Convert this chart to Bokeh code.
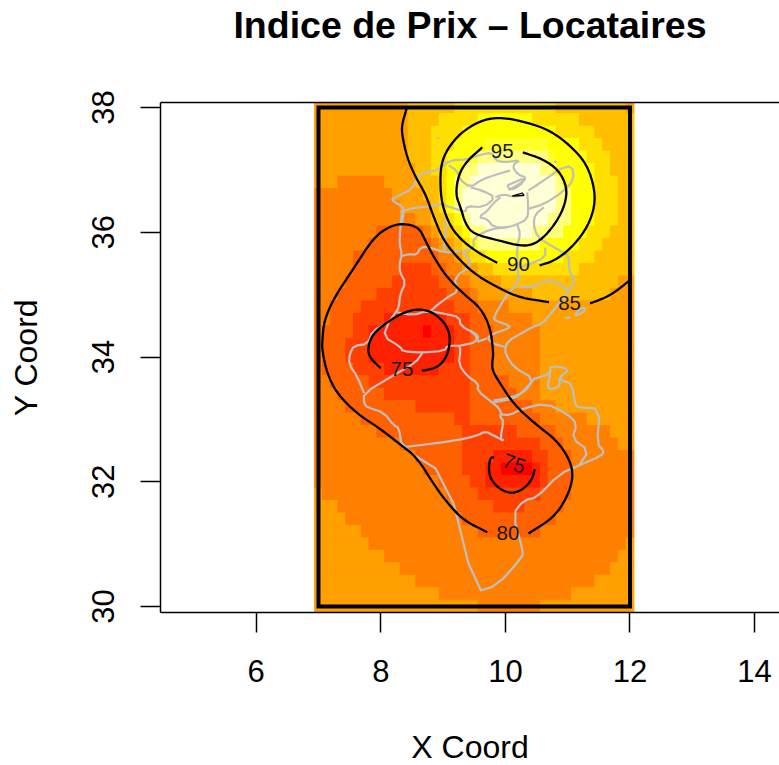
from bokeh.plotting import figure
from bokeh.models import Range1d, FixedTicker, LinearAxis
from bokeh.core.properties import value
from bokeh.embed import file_html
from bokeh.resources import INLINE

TITLE = "Indice de Prix – Locataires"
X_LABEL = "X Coord"
Y_LABEL = "Y Coord"
X_TICKS = [6, 8, 10, 12, 14]
Y_TICKS = [30, 32, 34, 36, 38]

# heat.colors(12): one band for every 2.5 index points from 70 to 100
BAND_COLORS = ["#FF0000", "#FF2000", "#FF4000", "#FF6000", "#FF8000", "#FF9F00",
               "#FFBF00", "#FFDF00", "#FFFF00", "#FFFF2A", "#FFFF80", "#FFFFD5"]

GRID_X0, GRID_X1, GRID_Y0, GRID_Y1, GRID_N = 7.0, 12.0, 30.0, 38.0, 41

# band index per grid row, top row first, as (band, run of cells)
HEAT_ROWS = [
    [(5,12),(6,6),(7,13),(6,9),(5,1)],
    [(5,12),(6,4),(7,5),(8,7),(7,6),(6,7)],
    [(5,12),(6,3),(7,4),(8,12),(7,5),(6,5)],
    [(5,12),(6,3),(7,3),(8,4),(9,8),(8,4),(7,3),(6,4)],
    [(5,12),(6,3),(7,2),(8,3),(9,1),(10,9),(9,1),(8,4),(7,3),(6,3)],
    [(5,13),(6,2),(7,2),(8,2),(10,2),(11,8),(10,2),(8,5),(7,2),(6,3)],
    [(5,3),(4,6),(5,4),(6,3),(7,1),(8,1),(10,2),(11,11),(10,1),(8,4),(7,3),(6,2)],
    [(4,10),(5,4),(6,2),(7,1),(8,1),(10,1),(11,12),(10,2),(8,3),(7,3),(6,2)],
    [(4,11),(5,4),(6,1),(7,1),(8,1),(10,1),(11,12),(10,2),(8,3),(7,3),(6,2)],
    [(4,13),(5,2),(6,2),(7,1),(8,1),(10,1),(11,10),(10,3),(8,3),(7,3),(6,2)],
    [(4,8),(3,6),(4,1),(5,1),(6,2),(7,1),(8,1),(10,2),(11,6),(10,4),(8,3),(7,3),(6,3)],
    [(4,7),(3,8),(4,1),(5,2),(6,1),(7,1),(8,1),(10,8),(8,5),(7,3),(6,4)],
    [(4,5),(3,11),(4,2),(5,1),(6,1),(7,2),(8,10),(7,4),(6,5)],
    [(4,5),(3,6),(2,4),(3,2),(4,2),(5,2),(6,2),(7,11),(6,7)],
    [(4,4),(3,6),(2,6),(3,2),(4,2),(5,4),(6,15),(5,2)],
    [(4,3),(3,5),(2,9),(3,3),(4,1),(5,7),(6,10),(5,3)],
    [(4,2),(3,4),(2,12),(3,3),(4,4),(5,16)],
    [(4,2),(3,3),(2,4),(1,8),(2,3),(3,2),(4,6),(5,13)],
    [(4,1),(3,4),(2,2),(1,7),(0,1),(1,3),(2,2),(3,3),(4,6),(5,12)],
    [(4,1),(3,3),(2,3),(1,11),(2,2),(3,3),(4,6),(5,12)],
    [(4,1),(3,3),(2,3),(1,11),(2,2),(3,3),(4,6),(5,12)],
    [(4,1),(3,4),(2,4),(1,7),(2,4),(3,3),(4,6),(5,12)],
    [(4,2),(3,5),(2,13),(3,5),(4,4),(5,12)],
    [(4,3),(3,6),(2,11),(3,6),(4,3),(5,12)],
    [(4,4),(3,9),(2,7),(3,8),(4,3),(5,10)],
    [(4,6),(3,12),(2,2),(3,9),(4,6),(5,6)],
    [(4,8),(3,11),(2,7),(3,5),(4,7),(5,3)],
    [(4,11),(3,8),(2,10),(3,3),(4,7),(5,2)],
    [(4,13),(3,6),(2,4),(1,5),(2,2),(3,3),(4,8)],
    [(4,14),(3,5),(2,3),(1,2),(0,4),(1,1),(2,1),(3,3),(4,8)],
    [(4,16),(3,4),(2,2),(1,7),(2,1),(3,3),(4,8)],
    [(5,1),(4,16),(3,4),(2,8),(3,4),(4,8)],
    [(5,3),(4,15),(3,5),(2,4),(3,5),(4,9)],
    [(5,4),(4,15),(3,12),(4,10)],
    [(5,6),(4,15),(3,8),(4,12)],
    [(5,7),(4,33),(5,1)],
    [(5,9),(4,30),(5,2)],
    [(5,11),(4,27),(5,3)],
    [(5,13),(4,23),(5,5)],
    [(5,16),(4,17),(5,8)],
    [(5,21),(4,8),(5,12)],
]

# governorate and coast outlines (longitude, latitude)
MAP_LINES = [
    [(8.34,36.13),(8.37,36.34),(8.34,36.42),(8.21,36.49),(8.18,36.53),(8.31,36.60),(8.50,36.69),(8.61,36.93),(8.93,37.00),(9.09,37.15),(9.41,37.17),(9.55,37.23),(9.79,37.28),(9.84,37.15),(10.00,37.12),(10.24,37.16),(10.11,37.07),(10.19,36.93),(10.35,36.87),(10.19,36.75),(10.05,36.68)],
    [(9.09,37.07),(9.22,36.99),(9.28,36.83),(9.44,36.72),(9.63,36.85),(9.87,36.93),(10.08,36.99)],
    [(9.44,36.72),(9.65,36.66),(9.84,36.56),(9.65,36.40),(9.38,36.42),(9.36,36.32),(9.22,36.37),(8.98,36.45)],
    [(9.84,36.56),(9.97,36.61),(10.11,36.57),(10.30,36.59)],
    [(10.03,36.75),(10.32,36.88),(10.24,36.75),(10.08,36.67),(10.03,36.75)],
    [(10.35,36.64),(10.37,36.37),(10.35,36.21),(10.19,36.13),(10.05,36.08),(9.81,36.08),(9.71,36.21),(9.57,36.24),(9.71,36.34),(9.79,36.45),(9.92,36.56)],
    [(10.35,36.37),(10.62,36.45),(10.94,36.66),(11.10,36.85),(11.07,37.07),(10.86,37.01),(10.72,36.90),(10.45,36.72),(10.37,36.67)],
    [(10.62,36.40),(10.48,36.29),(10.45,36.13),(10.51,35.94),(10.64,35.84),(10.94,35.67),(11.02,35.62),(11.02,35.38),(11.12,35.22),(11.02,35.06),(10.75,34.72),(10.59,34.53),(10.43,34.48),(10.24,34.37),(10.05,34.26),(10.00,34.16),(10.00,34.05),(10.14,33.83),(10.46,33.65),(10.30,33.43),(10.08,33.35),(9.81,33.30)],
    [(10.22,35.12),(10.43,35.12),(10.62,35.22),(10.83,35.20),(11.02,35.06)],
    [(10.19,36.13),(10.24,35.97),(10.19,35.78),(10.19,35.47),(10.22,35.20),(10.03,35.01),(9.81,34.64),(9.84,34.58),(10.08,34.50),(10.03,34.45),(9.79,34.37),(9.71,34.30),(9.81,34.21),(10.00,34.16)],
    [(10.64,35.75),(10.64,35.60),(10.40,35.49),(10.19,35.43)],
    [(10.05,36.08),(9.76,36.05),(9.49,35.92),(9.49,35.73),(9.28,35.70),(9.49,35.49),(9.17,35.27),(9.25,35.06),(9.06,34.95),(8.93,34.85),(8.80,34.74)],
    [(8.98,36.45),(9.06,36.16),(9.01,35.78),(9.04,35.67)],
    [(8.34,35.62),(8.45,35.65),(8.58,35.64),(8.64,35.76),(8.77,35.76),(9.04,35.67),(9.28,35.70)],
    [(8.34,36.34),(8.31,36.02),(8.30,35.81),(8.34,35.65),(8.30,35.49),(8.31,35.35),(8.40,35.19),(8.31,35.01),(8.29,34.79),(8.24,34.72)],
    [(8.34,36.34),(8.53,36.39),(8.85,36.42),(8.98,36.45)],
    [(8.24,34.72),(8.51,34.67),(8.75,34.74),(9.04,34.69),(9.26,34.64),(9.28,34.50),(9.52,34.37),(9.55,34.24),(9.26,34.18)],
    [(9.55,34.24),(9.71,34.30)],
    [(9.44,34.42),(9.57,34.34),(9.55,34.26)],
    [(8.24,34.72),(8.13,34.56),(7.87,34.42),(7.79,34.21),(7.57,34.18),(7.50,34.05),(7.49,33.89),(7.63,33.67),(7.73,33.42)],
    [(8.13,34.56),(8.04,34.33),(8.32,34.16),(8.35,34.09),(8.67,34.07),(9.02,34.10),(9.07,34.18),(9.26,34.18)],
    [(8.67,34.07),(8.56,33.91),(8.19,33.70),(7.73,33.42),(7.73,33.25),(7.79,33.19),(8.05,33.11),(8.21,32.90),(8.29,32.87),(8.34,32.55),(9.06,32.10),(9.52,30.23),(9.87,30.34),(10.27,30.79),(10.28,30.90),(10.12,31.48),(10.29,31.70),(10.51,31.75),(10.86,32.12),(11.18,32.26),(11.55,32.42),(11.58,32.50),(11.47,32.61),(11.52,33.17),(11.20,33.19),(11.12,33.22),(11.07,33.57),(10.91,33.62),(10.86,33.67)],
    [(10.46,33.65),(10.72,33.73),(10.72,33.86),(11.04,33.81),(10.86,33.67),(10.88,33.54),(10.75,33.48),(10.67,33.51),(10.72,33.73)],
    [(11.18,32.26),(11.34,32.50),(11.07,32.69),(11.15,32.93),(10.99,33.09),(10.64,33.26),(10.27,33.17),(10.05,33.06),(9.92,33.09),(9.92,33.03),(9.97,32.98),(9.92,32.69),(9.97,32.66)],
    [(8.34,32.55),(9.20,32.66),(9.55,32.74),(9.68,32.81),(9.81,32.74),(9.97,32.66)],
    [(9.26,34.18),(9.28,34.10),(9.25,33.89),(9.38,33.70),(9.57,33.57),(9.55,33.46),(9.79,33.27),(9.89,33.19),(9.95,33.06)],
    [(9.79,33.27),(10.13,33.33),(10.27,33.43),(10.46,33.65)],
    [(11.12,34.66),(11.18,34.77),(11.28,34.80),(11.26,34.72),(11.12,34.66)],
    [(10.96,34.63),(11.04,34.63)],
    [(8.90,37.51),(8.94,37.51)],
    [(10.78,37.12),(10.82,37.14)],
]
CENTER_SHAPE = [(10.11,36.58),(10.27,36.63),(10.30,36.59),(10.11,36.58)]

# isolines of the index, broken where the labels sit
CONTOUR_85A = [(8.42,38.00),(8.34,37.73),(8.34,37.57),(8.42,37.20),(8.56,36.88),(8.72,36.61),(8.85,36.24),(9.01,35.86),(9.28,35.54),(9.55,35.30),(9.92,35.09),(10.24,34.95),(10.70,34.88)]
CONTOUR_85B = [(11.36,34.86),(11.68,34.98),(12.00,35.23)]
CONTOUR_90 = [(9.87,35.51),(9.60,35.65),(9.33,35.84),(9.12,36.08),(8.98,36.45),(8.95,36.83),(8.98,37.15),(9.12,37.41),(9.33,37.63),(9.65,37.81),(9.97,37.84),(10.35,37.76),(10.72,37.63),(11.04,37.39),(11.31,37.09),(11.44,36.67),(11.42,36.34),(11.28,36.02),(11.04,35.73),(10.78,35.54),(10.55,35.47)]
CONTOUR_95 = [(10.28,37.28),(10.61,37.17),(10.86,36.99),(10.99,36.72),(10.96,36.45),(10.83,36.18),(10.64,35.94),(10.45,35.80),(10.24,35.78),(9.92,35.86),(9.49,35.97),(9.36,36.13),(9.28,36.40),(9.20,36.61),(9.25,36.93),(9.39,37.15),(9.63,37.36)]
CONTOUR_80 = [(9.71,31.19),(9.33,31.38),(9.06,31.67),(8.85,31.96),(8.58,32.39),(8.31,32.60),(7.99,32.85),(7.62,33.09),(7.30,33.41),(7.14,33.73),(7.06,34.10),(7.06,34.26),(7.09,34.58),(7.25,34.95),(7.57,35.43),(7.89,35.92),(8.15,36.10),(8.37,36.14),(8.61,36.08),(8.72,35.86),(8.85,35.60),(9.06,35.28),(9.33,35.01),(9.60,34.79),(9.76,34.47),(9.81,34.04),(9.79,33.94),(9.79,33.78),(9.92,33.57),(10.13,33.25),(10.45,32.95),(10.83,32.66),(11.04,32.34),(11.09,32.07),(10.99,31.75),(10.78,31.43),(10.37,31.17)]
CONTOUR_75A = [(8.66,33.78),(8.88,33.82),(9.02,33.94),(9.10,34.13),(9.11,34.37),(9.02,34.56),(8.83,34.72),(8.62,34.77),(8.40,34.73),(8.13,34.58),(7.87,34.37),(7.79,34.15),(7.82,33.99),(8.00,33.82)]
CONTOUR_75B = [(9.82,32.39),(9.76,32.39),(9.73,32.23),(9.76,32.04),(9.92,31.87),(10.11,31.81),(10.29,31.88),(10.43,32.04),(10.47,32.20)]
CONTOURS = [CONTOUR_85A, CONTOUR_85B, CONTOUR_90, CONTOUR_95, CONTOUR_80, CONTOUR_75A, CONTOUR_75B]

LABEL_TEXT = ["85", "90", "95", "80", "75", "75"]
LABEL_X = [11.03, 10.21, 9.95, 10.04, 8.34, 10.14]
LABEL_Y = [34.87, 35.49, 37.31, 31.18, 33.80, 32.29]
LABEL_ANGLE = [0, 0, 0, 0, 0, -0.35]

FONT = "Liberation Sans"


def rounded(line, passes=2):
    """Round the corners of a traced line; its end points stay where they are."""
    for _ in range(passes):
        out = [line[0]]
        for a, b in zip(line, line[1:]):
            out.append((0.75 * a[0] + 0.25 * b[0], 0.75 * a[1] + 0.25 * b[1]))
            out.append((0.25 * a[0] + 0.75 * b[0], 0.25 * a[1] + 0.75 * b[1]))
        out.append(line[-1])
        line = out
    return line


p = figure(width=779, height=765, output_backend="svg", toolbar_location=None,
           x_range=Range1d(4.464, 14.40), y_range=Range1d(29.904, 38.08),
           frame_width=619, frame_height=510,
           min_border_left=160, min_border_right=0, min_border_top=102, min_border_bottom=153,
           background_fill_color="white", border_fill_color="white")
p.grid.visible = False
p.outline_line_color = None

# heat cells
dx = (GRID_X1 - GRID_X0) / (GRID_N - 1)
dy = (GRID_Y1 - GRID_Y0) / (GRID_N - 1)
lefts, rights, tops, bottoms, colors = [], [], [], [], []
for t, row in enumerate(HEAT_ROWS):
    c = 0
    for band, run in row:
        lefts.append(GRID_X0 + (c - 0.5) * dx)
        rights.append(GRID_X0 + (c + run - 0.5) * dx)
        tops.append(GRID_Y1 - (t - 0.5) * dy)
        bottoms.append(GRID_Y1 - (t + 0.5) * dy)
        colors.append(BAND_COLORS[band])
        c += run
p.quad(left=lefts, right=rights, top=tops, bottom=bottoms, fill_color=colors,
       line_color=colors, line_width=1)

# map
map_lines = [rounded(l, 1) for l in MAP_LINES]
p.multi_line(xs=[[q[0] for q in l] for l in map_lines], ys=[[q[1] for q in l] for l in map_lines],
             line_color="#BEBEBE", line_width=2.2, line_join="round")
p.patch([q[0] for q in CENTER_SHAPE], [q[1] for q in CENTER_SHAPE], fill_color="#BEBEBE",
        line_color="black", line_width=1.2)

# contours
contours = [rounded(l) for l in CONTOURS]
p.multi_line(xs=[[q[0] for q in l] for l in contours], ys=[[q[1] for q in l] for l in contours],
             line_color="black", line_width=2.3, line_join="round")
p.text(x=LABEL_X, y=LABEL_Y, text=LABEL_TEXT, angle=LABEL_ANGLE, text_font=value(FONT),
       text_font_size="20.5px", text_color="#1a1a1a", text_align="center", text_baseline="middle")

# study window
p.quad(left=[GRID_X0], right=[GRID_X1], top=[GRID_Y1], bottom=[GRID_Y0], fill_color=None,
       line_color="black", line_width=4, line_join="miter")

# axes
for ax, ticks in ((p.xaxis[0], X_TICKS), (p.yaxis[0], Y_TICKS)):
    ax.ticker = FixedTicker(ticks=ticks)
    ax.major_tick_out = 20
    ax.major_tick_in = 0
    ax.minor_tick_out = 0
    ax.minor_tick_in = 0
    ax.major_tick_line_color = "black"
    ax.major_tick_line_width = 1.5
    ax.axis_line_color = "black"
    ax.axis_line_width = 1.5
    ax.major_label_text_font = FONT
    ax.major_label_text_font_size = "31px"
    ax.major_label_text_color = "black"
p.xaxis[0].major_label_standoff = 27
p.yaxis[0].major_label_standoff = 26
p.yaxis[0].major_label_orientation = "vertical"
p.yaxis[0].axis_label = Y_LABEL
p.yaxis[0].axis_label_text_font = FONT
p.yaxis[0].axis_label_text_font_size = "32px"
p.yaxis[0].axis_label_text_font_style = "normal"
p.yaxis[0].axis_label_text_color = "black"
p.yaxis[0].axis_label_standoff = 46

# the top edge of the box
top_axis = LinearAxis(ticker=FixedTicker(ticks=[]), axis_line_color="black", axis_line_width=1.5,
                      major_tick_line_color=None, minor_tick_line_color=None)
p.add_layout(top_axis, "above")

# title and x label sit on line-less axes, which lets them lie at any distance from the frame
title_axis = LinearAxis(ticker=FixedTicker(ticks=[]), axis_line_color=None,
                        major_tick_line_color=None, minor_tick_line_color=None,
                        axis_label=TITLE, axis_label_standoff=57, axis_label_text_font=FONT,
                        axis_label_text_font_size="37.5px", axis_label_text_font_style="bold",
                        axis_label_text_color="black")
p.add_layout(title_axis, "above")

label_axis = LinearAxis(ticker=FixedTicker(ticks=[]), axis_line_color=None,
                        major_tick_line_color=None, minor_tick_line_color=None,
                        axis_label=X_LABEL, axis_label_standoff=44, axis_label_text_font=FONT,
                        axis_label_text_font_size="32px", axis_label_text_font_style="normal",
                        axis_label_text_color="black")
p.add_layout(label_axis, "below")

open("out.html", "w").write(file_html(p, INLINE))
